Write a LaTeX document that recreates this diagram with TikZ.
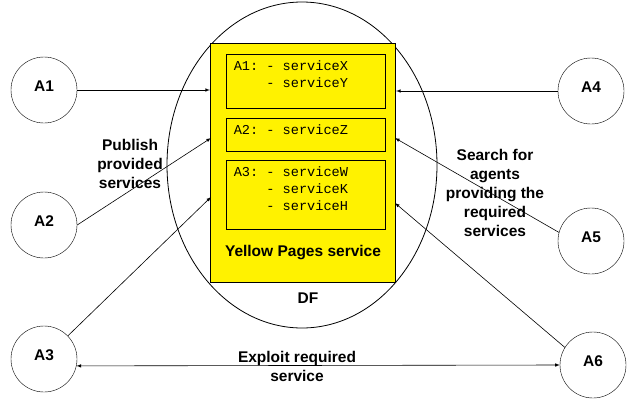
\documentclass[tikz,border=0pt]{standalone}
\usepackage{fontspec}
\setmainfont{Liberation Sans}
\setmonofont{Liberation Mono}
\usetikzlibrary{arrows}

\begin{document}
\begin{tikzpicture}[>=latex, x=1pt, y=-1pt,
	agent/.style={draw, circle, minimum size=66pt, inner sep=0pt, text depth=8pt, font=\fontsize{15.5}{19}\selectfont\bfseries},
	lbl/.style={align=center, inner sep=0pt, font=\fontsize{15.5}{18.8}\selectfont\bfseries},
	svcbox/.style={draw, line width=0.9pt, minimum width=159pt},
	svclist/.style={anchor=north west, align=left, inner sep=3pt, xshift=5pt, yshift=-4pt, font=\fontsize{13.6}{16.7}\selectfont\ttfamily},
	conn/.style={line width=0.6pt}]
	\useasboundingbox (0,0) rectangle (640,402);
	% directory facilitator
	\draw[line width=0.8pt] (302,165) ellipse [x radius=135, y radius=163];
	\node[draw, fill=yellow, line width=1.2pt, minimum width=185pt, minimum height=239pt] (yp) at (303,163) {};
	\node[svcbox, minimum height=54pt] (box1) at (305.5,81) {};
	\node[svcbox, minimum height=33pt] (box2) at (305.5,134.5) {};
	\node[svcbox, minimum height=69pt] (box3) at (305.5,194.5) {};
	\node[svclist] (list1) at (box1.north west) {A1: - serviceX\\\hphantom{A1: }- serviceY};
	\node[svclist] (list2) at (box2.north west) {A2: - serviceZ};
	\node[svclist] (list3) at (box3.north west) {A3: - serviceW\\\hphantom{A3: }- serviceK\\\hphantom{A3: }- serviceH};
	\node[lbl] (ypname) at (303,253) {Yellow Pages service};
	\node[lbl] (dfname) at (308,298) {DF};
	% agents
	\node[agent] (A1) at (44,90) {A1};
	\node[agent] (A2) at (44,225) {A2};
	\node[agent] (A3) at (44,359) {A3};
	\node[agent] (A4) at (591,91) {A4};
	\node[agent] (A5) at (591,241) {A5};
	\node[agent] (A6) at (593,365) {A6};
	\coordinate (in2) at (211,138);
	\coordinate (in3) at (211,197);
	\coordinate (in5) at (395,138);
	\coordinate (in6) at (395,203);
	\draw[conn, ->] (A1) -- (A1 -| yp.west);
	\draw[conn, ->] (A2.east) -- (in2);
	\draw[conn, ->] (A3) -- (in3);
	\draw[conn, ->] (A4) -- (A4 -| yp.east);
	\draw[conn, ->] (A5.165) -- (in5);
	\draw[conn, ->] (A6.148) -- (in6);
	\draw[conn, <->] (A3.-12) -- (A6.west);
	% labels
	\node[lbl] (publish) at (130,164) {Publish\\provided\\services};
	\node[lbl] (search) at (495,193) {Search for\\agents\\providing the\\required\\services};
	\node[lbl] (exploit) at (297,366.5) {Exploit required\\service};
\end{tikzpicture}
\end{document}
